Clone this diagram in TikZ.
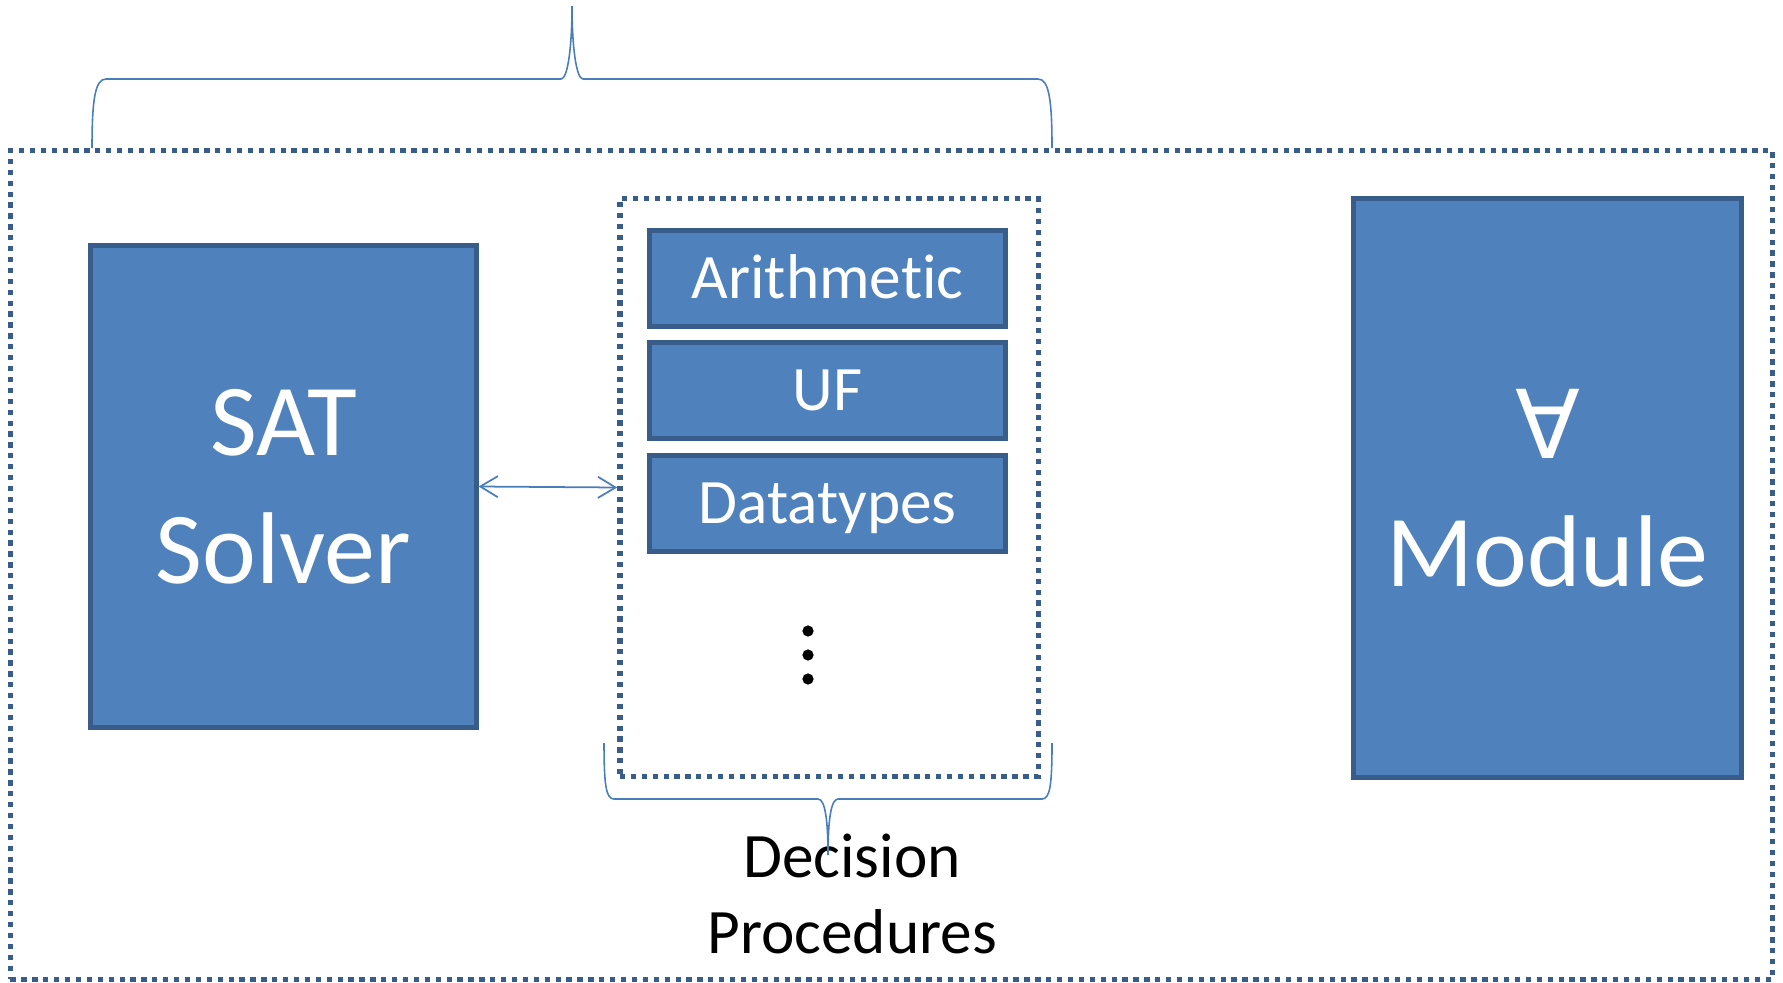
\documentclass[tikz,border=0pt]{standalone}
\usepackage{fontspec}
\setmainfont{Carlito}[Ligatures=NoCommon]
\newfontfamily\symfont{DejaVu Sans}
\usepackage{tikz}
\usetikzlibrary{arrows.meta}
\definecolor{boxfill}{HTML}{4F81BD}
\definecolor{boxline}{HTML}{385D8A}
\definecolor{bracecol}{HTML}{4A7EBB}
\newcommand{\bigfont}{\fontsize{29}{36.5}\selectfont}
\tikzstyle{block}=[draw=boxline,fill=boxfill,line width=1.4pt,text=white,inner sep=0pt]
\tikzstyle{theory}=[block,minimum width=3.55cm,minimum height=0.96cm,font=\fontsize{18}{21.6}\selectfont,text height=11.6pt,text depth=0pt]
\tikzstyle{group}=[draw=boxline,line width=1.5pt,dash pattern=on 1.5pt off 1.6pt,inner sep=0pt]
\tikzstyle{brace}=[draw=bracecol,line width=0.45pt]

\begin{document}
\begin{tikzpicture}[x=0.01cm,y=-0.01cm]
        \tikzset{link/.style = {draw=bracecol,line width=0.5pt,{Straight Barb[length=5pt,width=6pt]}-{Straight Barb[length=5pt,width=6pt]}}}
        \useasboundingbox (0,0) rectangle (1783,982);
        \node[group,minimum width=17.61cm,minimum height=8.28cm] (outer) at (891.5,565) {};
        \node[block,minimum width=3.85cm,minimum height=4.81cm,align=center,font=\bigfont] (sat) at (283.5,486.5) {SAT\\Solver};
        \node[group,minimum width=4.18cm,minimum height=5.77cm] (dp) at (829,487.5) {};
        \node[theory] (arith) at (827.5,278.5) {Arithmetic};
        \node[theory] (uf) at (827.5,390.5) {UF};
        \node[theory] (dtypes) at (827.5,503.5) {Datatypes};
        \foreach \y in {631,655,679}
          \fill (808,\y) circle[radius=1.6pt];
        \node[block,minimum width=3.87cm,minimum height=5.78cm,align=center,font=\bigfont] (module) at (1547.5,488) {{\symfont\fontsize{27}{36.5}\selectfont ∀}\\Module};
        \node[align=center,font=\fontsize{18}{21.6}\selectfont] (dplabel) at (852,894) {Decision\\Procedures};
        \draw[link] (sat.east) -- (dp.west);
        % braces
        \draw[brace] (92,148) .. controls (92,100) and (95,79) .. (106,79) -- (561,79)
          .. controls (568,79) and (572,45) .. (572,6) .. controls (572,45) and (576,79) .. (583,79)
          -- (1038,79) .. controls (1049,79) and (1052,100) .. (1052,148);
        \draw[brace] (604,743) .. controls (604,785) and (606,799) .. (614,799) -- (818,799)
          .. controls (825,799) and (828,820) .. (828,855) .. controls (828,820) and (831,799) .. (838,799)
          -- (1042,799) .. controls (1050,799) and (1052,785) .. (1052,743);
      \end{tikzpicture}
\end{document}
